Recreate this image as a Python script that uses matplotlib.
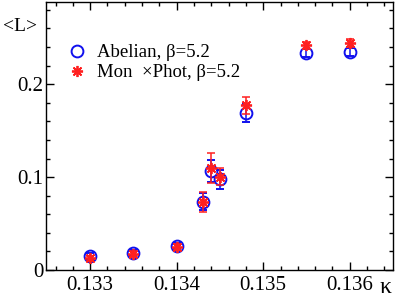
import matplotlib
matplotlib.use("Agg")
import matplotlib.pyplot as plt
from matplotlib.lines import Line2D
from matplotlib.ticker import MultipleLocator, FixedLocator, FixedFormatter

plt.rcParams['font.family'] = ['Liberation Serif', 'DejaVu Serif']
plt.rcParams['mathtext.fontset'] = 'stix'

kappa = [0.1330, 0.1335, 0.1340, 0.1343, 0.1344, 0.1345, 0.1348, 0.1355, 0.1360]
abel_L = [0.0150, 0.0180, 0.0258, 0.0734, 0.1068, 0.0975, 0.1690, 0.2337, 0.2347]
abel_err = [0.003, 0.003, 0.003, 0.009, 0.012, 0.010, 0.010, 0.004, 0.004]
mp_L = [0.0126, 0.0170, 0.0250, 0.0730, 0.1100, 0.1003, 0.1774, 0.2419, 0.2444]
mp_err = [0.003, 0.003, 0.003, 0.011, 0.016, 0.009, 0.009, 0.004, 0.004]

xticks = [0.133, 0.134, 0.135, 0.136]
xticklabels = ['0.133', '0.134', '0.135', '0.136']
yticks = [0.0, 0.1, 0.2]
yticklabels = ['0', '0.1', '0.2']

blue = '#1010ee'
red = '#ff2020'

fig = plt.figure(figsize=(3.95, 2.97), dpi=100)
ax = fig.add_axes([0.1165, 0.0909, 0.8785, 0.9024])

ax.errorbar(kappa, abel_L, yerr=abel_err, fmt='o', mfc='none', mec=blue,
            ecolor=blue, ms=8.5, mew=1.4, elinewidth=1.1, capsize=3, capthick=1.1,
            zorder=3)
ax.errorbar(kappa, mp_L, yerr=mp_err, fmt='none', ecolor=red,
            elinewidth=1.1, capsize=3, capthick=1.1, zorder=4)
ax.plot(kappa, mp_L, ls='none', marker=(8, 2, 0), ms=8, mew=1.3, color=red, zorder=5)

ax.set_xlim(0.13249, 0.1365)
ax.set_ylim(0.0, 0.2885)
ax.xaxis.set_major_locator(FixedLocator(xticks))
ax.xaxis.set_major_formatter(FixedFormatter(xticklabels))
ax.xaxis.set_minor_locator(MultipleLocator(0.0002))
ax.yaxis.set_major_locator(FixedLocator(yticks))
ax.yaxis.set_major_formatter(FixedFormatter(yticklabels))
ax.yaxis.set_minor_locator(MultipleLocator(0.02))
ax.tick_params(which='both', direction='in', top=True, right=True, width=1.0)
ax.tick_params(axis='x', which='major', length=6, labelsize=15, pad=4)
ax.tick_params(axis='y', which='major', length=6, labelsize=15, pad=2)
ax.tick_params(which='minor', length=3)
for s in ax.spines.values():
    s.set_linewidth(1.0)

handles = [
    Line2D([], [], ls='none', marker='o', mfc='none', mec=blue, ms=8.5, mew=1.4),
    Line2D([], [], ls='none', marker=(8, 2, 0), ms=8, mew=1.3, color=red),
]
labels = ['Abelian, β=5.2', 'Mon  ×Phot, β=5.2']
leg = ax.legend(handles, labels, loc='upper left', bbox_to_anchor=(0.035, 0.87),
                frameon=False, fontsize=13.5, handletextpad=0.45, borderaxespad=0,
                labelspacing=0.15, handlelength=1.2)

fig.text(0.008, 0.91, '<L>', fontsize=14, ha='left', va='center')
fig.text(0.977, 0.012, 'κ', fontsize=17, ha='center', va='baseline')

fig.savefig('out.png', dpi=100)
